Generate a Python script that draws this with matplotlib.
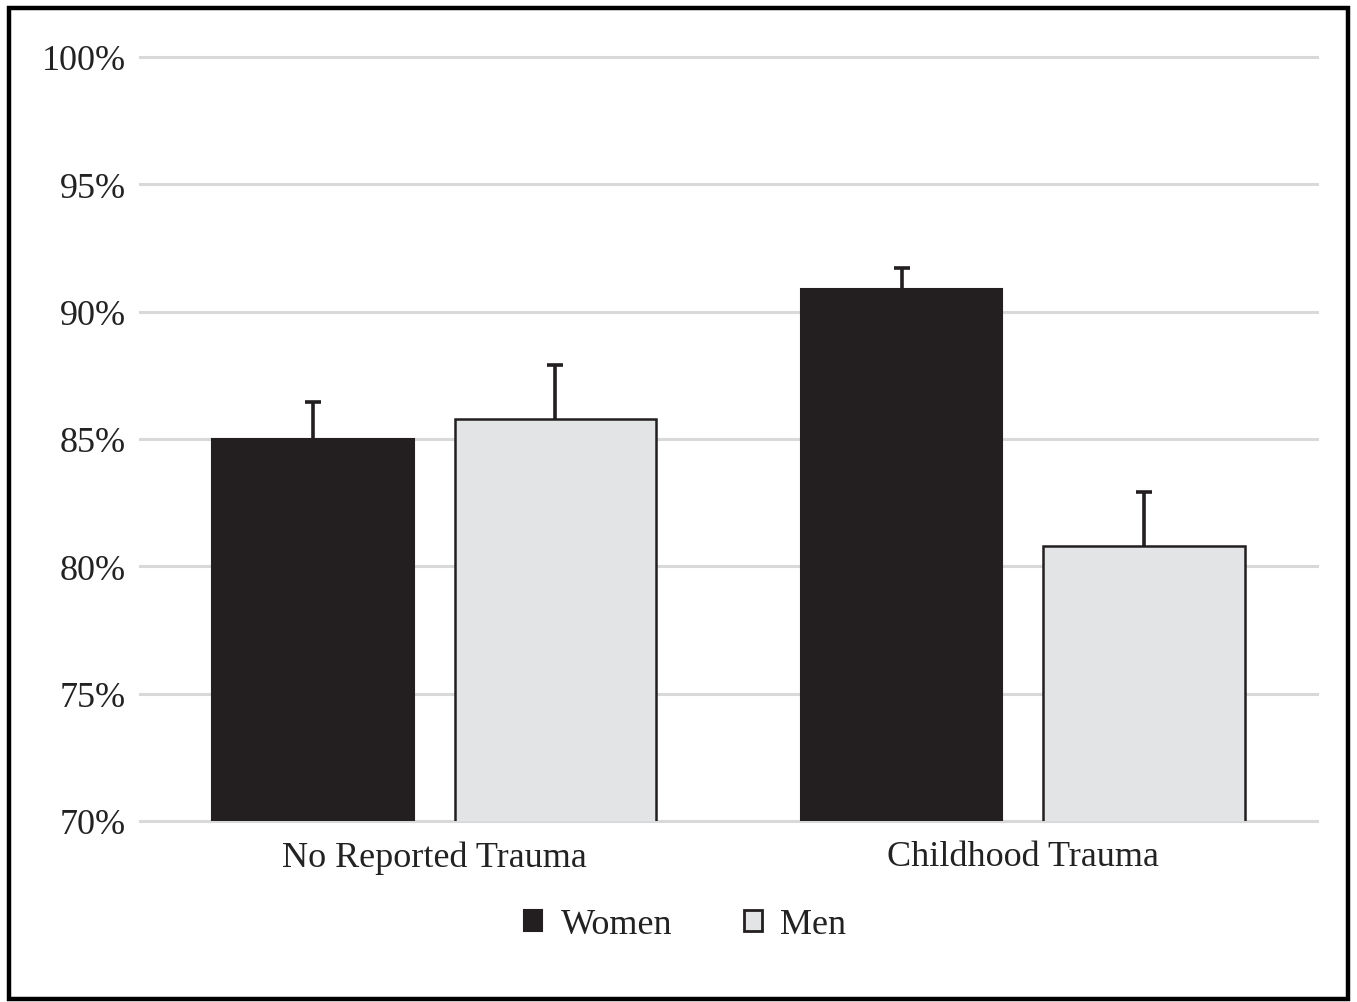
import numpy as np
import matplotlib.pyplot as plt
from matplotlib.patches import Rectangle, Patch

groups = ["No Reported Trauma", "Childhood Trauma"]
women = [85.0, 90.9]
women_err = [1.45, 0.8]
men = [85.8, 80.8]
men_err = [2.1, 2.1]
yticks = [70, 75, 80, 85, 90, 95, 100]


def main():
    plt.rcParams['font.family'] = ['Liberation Serif', 'DejaVu Serif']
    fig = plt.figure(figsize=(13.57, 10.03), dpi=100)
    ax = fig.add_axes([0.1032, 0.1805, 0.8673, 0.7617])

    x = np.arange(len(groups))
    w = 0.342
    off = 0.206
    dark = "#231f20"
    light = "#e3e4e5"

    ax.bar(x - off, women, w, color=dark, edgecolor=dark, linewidth=1.5, zorder=3)
    ax.bar(x + off, men, w, color=light, edgecolor=dark, linewidth=1.8, zorder=3)
    for xs, vals, errs in [(x - off, women, women_err), (x + off, men, men_err)]:
        eb = ax.errorbar(xs, vals, yerr=[np.zeros(2), errs], fmt="none",
                         ecolor=dark, elinewidth=2.6, capsize=5.5, capthick=2.6, zorder=4)
        # only the upper cap
        eb[1][0].set_visible(False)

    ax.set_xlim(-0.5, 1.5)
    ax.set_ylim(70, 100)
    ax.set_yticks(yticks)
    ax.set_yticklabels([f"{v}%" for v in yticks])
    ax.set_xticks(x)
    ax.set_xticklabels(groups)
    ax.tick_params(axis="both", length=0, labelsize=26, colors="#222222")
    ax.tick_params(axis="y", pad=10)
    ax.tick_params(axis="x", pad=14)
    ax.yaxis.grid(True, color="#d9d9d9", linewidth=2.2, zorder=0)
    ax.set_axisbelow(True)
    for gl in ax.get_ygridlines():
        gl.set_clip_on(False)
    for s in ax.spines.values():
        s.set_visible(False)

    handles = [Patch(facecolor=dark, edgecolor=dark, linewidth=1.5),
               Patch(facecolor=light, edgecolor=dark, linewidth=2)]
    fig.legend(handles, ["Women", "Men"], loc="center", bbox_to_anchor=(0.505, 0.077),
               ncol=2, frameon=False, fontsize=26, handlelength=0.5, handleheight=0.5,
               handletextpad=0.5, columnspacing=2.0, labelcolor="#222222")

    # outer frame
    fig.patches.append(Rectangle((8.5 / 1357, 3.0 / 1003), 1339 / 1357, 991 / 1003,
                                 transform=fig.transFigure, fill=False,
                                 edgecolor="black", linewidth=3.2))

    fig.savefig("out.png", dpi=100)
    plt.close(fig)


if __name__ == "__main__":
    main()
